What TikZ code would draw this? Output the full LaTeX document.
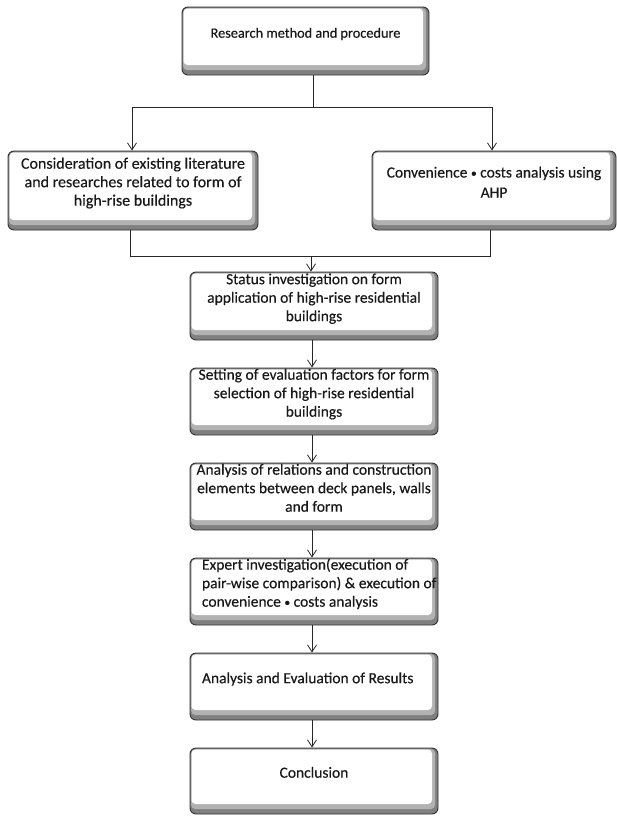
\documentclass[tikz,border=0pt]{standalone}
\usepackage{fontspec}
\setmainfont{Carlito}
\newfontfamily\boxfont{Carlito}[FakeBold=0.35]
\usetikzlibrary{arrows.meta}
\newcommand{\bt}[1]{\raisebox{7pt}[\height][\depth]{\begin{tabular}{@{}c@{}}#1\end{tabular}}}
\newcommand{\btl}[1]{\raisebox{7pt}[\height][\depth]{\makebox[224pt][l]{\begin{tabular}{@{}l@{}}#1\end{tabular}}}}
\newcommand{\dotsep}{\raisebox{0.5pt}{\scalebox{0.75}{•}}}
\begin{document}
\begin{tikzpicture}[x=1pt,y=-1pt,
  box/.style={draw=black!80, line width=0.9pt, rounded corners=6pt, fill=black!50,
    inner sep=0pt, minimum width=#1,
    font=\boxfont\fontsize{15.5}{18.5}\selectfont, text=black!90,
    path picture={
      \fill[black!30, rounded corners=4pt]
      ([shift={(1.2pt,-1.2pt)}]path picture bounding box.north west) rectangle
      ([shift={(-3pt,5pt)}]path picture bounding box.south east);
      \fill[white, rounded corners=4pt]
      ([shift={(1.5pt,-1.5pt)}]path picture bounding box.north west) rectangle
      ([shift={(-6pt,10pt)}]path picture bounding box.south east);}},
  box/.default=248pt,
  con/.style={draw=black!85, line width=0.8pt},
  arr/.style={con, -{Straight Barb[length=7pt,width=9pt]}}]
\useasboundingbox (0,0) rectangle (617,817);
\fill[white] (0,0) rectangle (617,817);

\node[box=247pt, minimum height=68pt, font=\boxfont\fontsize{14.3}{18.5}\selectfont] (top) at (305.5,41) {\bt{Research method and procedure}};
\node[box=250pt, minimum height=79pt, font=\boxfont\fontsize{16}{18.5}\selectfont] (lit) at (133,190.5) {\raisebox{2pt}{\bt{Consideration of existing literature\\ and researches related to form of\\ high-rise buildings}}};
\node[box=244pt, minimum height=79pt, font=\boxfont\fontsize{15.5}{20}\selectfont] (ahp) at (494,190.5) {\bt{Convenience \dotsep{} costs analysis using\\ AHP}};
\node[box, minimum height=68pt] (status) at (314,306) {\bt{Status investigation on form\\ application of high-rise residential\\ buildings}};
\node[box, minimum height=67pt] (setting) at (314,401.5) {\bt{Setting of evaluation factors for form\\ selection of high-rise residential\\ buildings}};
\node[box, minimum height=67pt] (anal) at (314,496.5) {\bt{Analysis of relations and construction\\ elements between deck panels, walls\\ and form}};
\node[box, minimum height=67pt] (expert) at (314,591.5) {\btl{Expert investigation(execution of\\ pair-wise comparison) \& execution of\\ convenience \dotsep{} costs analysis}};
\node[box, minimum height=67pt] (res) at (314,686.5) {\btl{Analysis and Evaluation of Results}};
\node[box, minimum height=66pt] (conc) at (314,781) {\bt{Conclusion}};

\coordinate (j1) at (313,107);
\coordinate (jl) at (132,107);
\coordinate (jr) at (492,107);
\coordinate (k1) at (311,256);
\coordinate (kl) at (130,256);
\coordinate (kr) at (490,256);

\draw[con] (top.south -| j1) -- (j1);
\draw[con] (jl) -- (jr);
\draw[arr] (jl) -- (lit.north -| jl);
\draw[arr] (jr) -- (ahp.north -| jr);
\draw[con] (lit.south -| kl) -- (kl) -- (kr) -- (ahp.south -| kr);
\draw[arr] (k1) -- (status.north -| k1);
\draw[arr] (status.south -| 312,0) -- (setting.north -| 312,0);
\draw[arr] (setting.south -| 312,0) -- (anal.north -| 312,0);
\draw[arr] (anal.south -| 312,0) -- (expert.north -| 312,0);
\draw[arr] (expert.south -| 312,0) -- (res.north -| 312,0);
\draw[arr] (res.south -| 312,0) -- (conc.north -| 312,0);
\end{tikzpicture}
\end{document}
